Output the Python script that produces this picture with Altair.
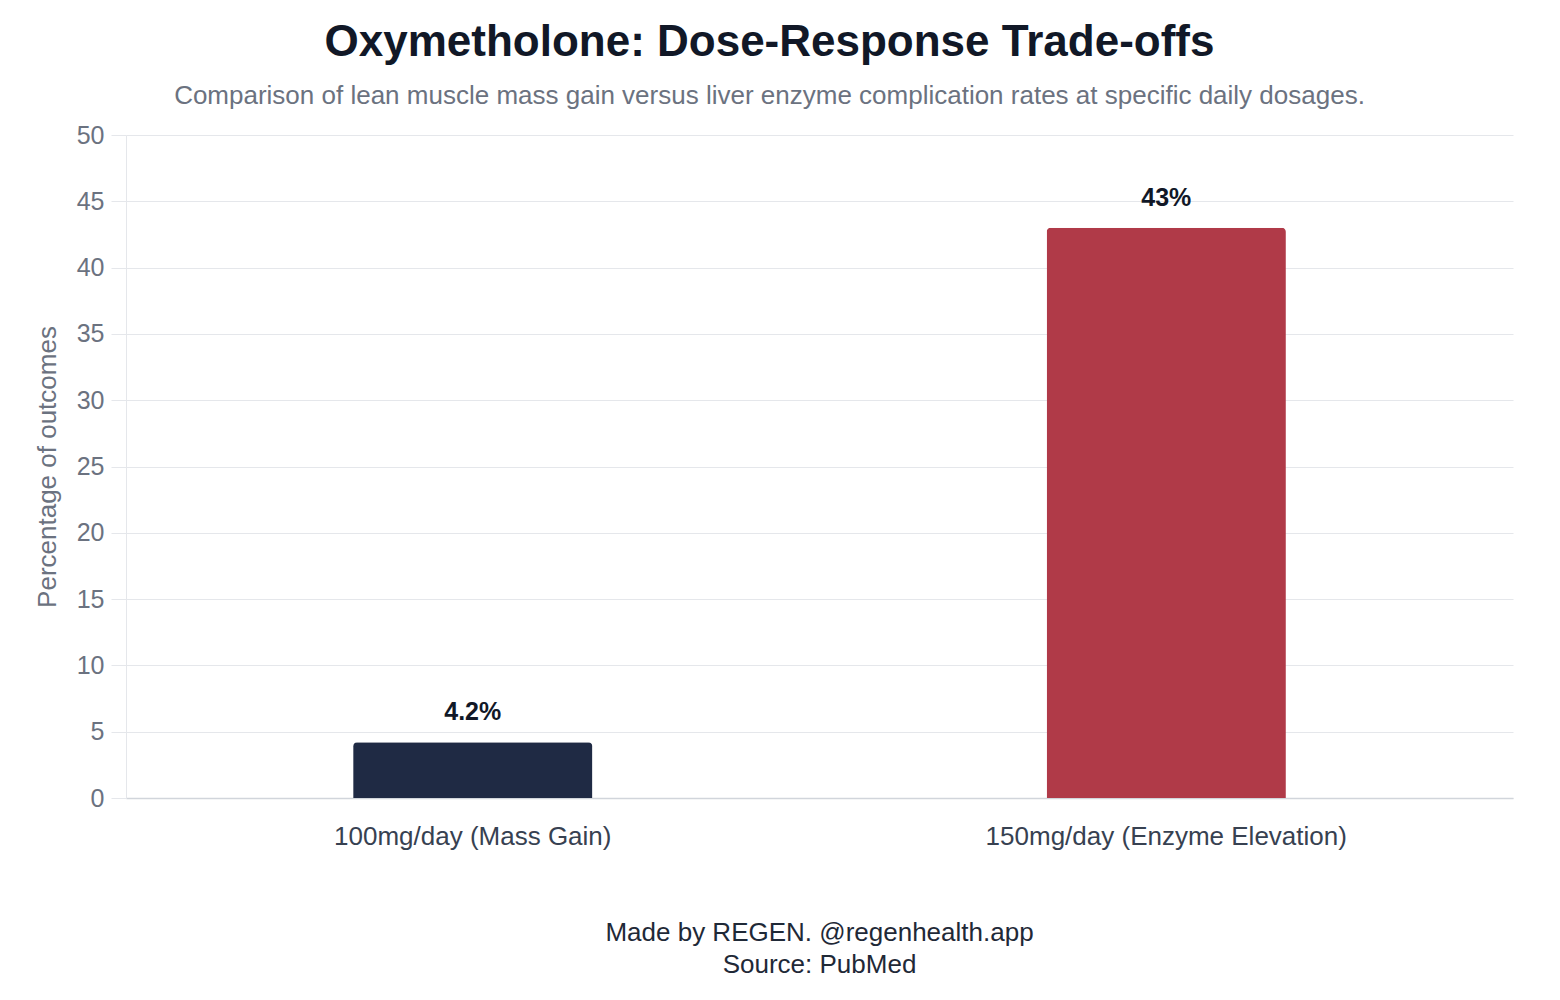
import altair as alt
import pandas as pd

dosages = ["100mg/day (Mass Gain)", "150mg/day (Enzyme Elevation)"]
percentages = [4.2, 43.0]
value_labels = ["4.2%", "43%"]
bar_colors = ["#1f2a44", "#b03a48"]
footer_lines = ["Made by REGEN. @regenhealth.app", "Source: PubMed"]

FONT = "Liberation Sans"
W, H = 1387, 663

data = pd.DataFrame(
    {"Dosage": dosages, "Percent": percentages, "Label": value_labels, "Color": bar_colors}
)

base = alt.Chart(data).encode(
    x=alt.X(
        "Dosage:N",
        sort=dosages,
        title=None,
        scale=alt.Scale(paddingInner=0.655, paddingOuter=0.3275),
        axis=alt.Axis(
            labelAngle=0,
            labelColor="#374151",
            labelFontSize=26,
            labelFont=FONT,
            labelPadding=25,
            labelLimit=0,
            ticks=False,
            domainColor="#d1d5db",
            domainWidth=1.5,
            grid=False,
        ),
    ),
)

bars = base.mark_bar(cornerRadiusTopLeft=4, cornerRadiusTopRight=4).encode(
    y=alt.Y(
        "Percent:Q",
        title="Percentage of outcomes",
        scale=alt.Scale(domain=[0, 50]),
        axis=alt.Axis(
            values=list(range(0, 51, 5)),
            labelColor="#6b7280",
            labelFontSize=25,
            labelFont=FONT,
            labelPadding=7,
            tickSize=15,
            tickColor="#e5e7eb",
            gridColor="#e5e7eb",
            domainColor="#e5e7eb",
            titleColor="#6b7280",
            titleFontSize=26,
            titleFont=FONT,
            titleFontWeight="normal",
            titlePadding=16,
        ),
    ),
    color=alt.Color("Color:N", scale=None),
)

labels = base.mark_text(
    dy=-17, baseline="bottom", font=FONT, fontSize=25, fontWeight="bold", color="#111827"
).encode(y="Percent:Q", text="Label:N")

footer = (
    alt.Chart(pd.DataFrame({"line": footer_lines, "row": [0, 1]}))
    .mark_text(font=FONT, fontSize=26, color="#1f2937", baseline="middle")
    .encode(
        x=alt.value(W / 2),
        y=alt.value(H + 135),
        text="line:N",
        yOffset=alt.YOffset("row:Q", scale=alt.Scale(domain=[0, 1], range=[0, 32])),
    )
)

chart = (
    (bars + labels + footer)
    .properties(
        width=W,
        height=H,
        padding={"left": 26, "top": 13, "right": 5, "bottom": 5},
        title=alt.TitleParams(
            text="Oxymetholone: Dose-Response Trade-offs",
            subtitle="Comparison of lean muscle mass gain versus liver enzyme complication rates at specific daily dosages.",
            font=FONT,
            fontSize=44,
            fontWeight="bold",
            color="#111827",
            subtitleFont=FONT,
            subtitleFontSize=26,
            subtitleColor="#6b7280",
            subtitlePadding=18,
            anchor="middle",
            dx=-50,
            offset=14,
        ),
    )
    .configure(background="white")
    .configure_view(stroke=None, strokeWidth=0)
)

chart.save("out.html", embed_options={"renderer": "svg", "actions": False})
